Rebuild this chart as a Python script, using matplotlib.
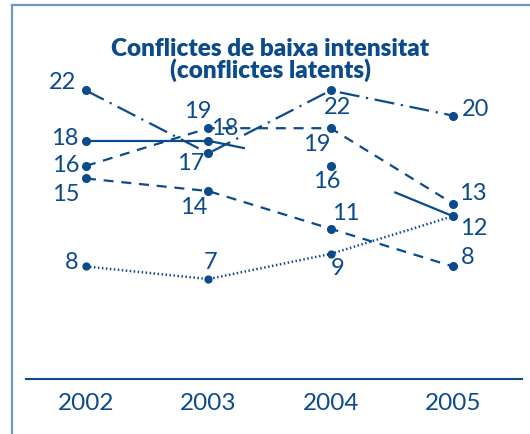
import matplotlib.pyplot as plt
from matplotlib.lines import Line2D

years = ['2002', '2003', '2004', '2005']
serie_a = [22, 17, 22, 20]   # traç-punt
serie_b = [18, 18, 16, 12]   # continu (amb talls)
serie_c = [16, 19, 19, 13]   # discontinu
serie_d = [15, 14, 11, 8]    # discontinu
serie_e = [8, 7, 9, 12]      # puntejat

blue = '#0b4a8b'
frame_blue = '#6d95c6'
plt.rcParams['font.family'] = ['Lato', 'DejaVu Sans']

fig = plt.figure(figsize=(5.30, 4.34), dpi=100)
W, H = 530, 434
ax = fig.add_axes([26 / W, (H - 379) / H, 496 / W, 374 / H])
ax.set_xlim(-0.49, 3.564)
ax.set_ylim(-0.95, 28.8)

x = list(range(len(years)))
lw = 1.6
ms = 5.5

ax.plot(x, serie_a, color=blue, lw=lw, dashes=(9, 3, 1, 3), marker='o', ms=ms)
ax.plot(x, serie_c, color=blue, lw=lw, dashes=(4.5, 3.5), marker='o', ms=ms)
ax.plot(x, serie_d, color=blue, lw=lw, dashes=(4.5, 3.5), marker='o', ms=ms)
ax.plot(x, serie_e, color=blue, lw=1.8, dashes=(0.6, 1.0), marker='o', ms=ms * 0.9)

# solid series: line is cut around 2004
ax.plot(x, serie_b, color=blue, lw=0, marker='o', ms=ms)
def part(i, t0, t1):
    xs = [x[i] + t * (x[i + 1] - x[i]) for t in (t0, t1)]
    ys = [serie_b[i] + t * (serie_b[i + 1] - serie_b[i]) for t in (t0, t1)]
    ax.plot(xs, ys, color=blue, lw=lw, solid_capstyle='butt')
part(0, 0, 1)
part(1, 0, 0.3)
part(2, 0.52, 1)

# label offsets in pixels (dx, dy)
offsets = {
    'a': [(-23, 8), (-18, -10), (7, -17), (23, 6)],
    'b': [(-21, 2), (16, 12), (-4, -16), (21, -12)],
    'c': [(-20, 0), (-11, 17), (-14, -16), (20, 10)],
    'd': [(-20, -16), (-15, -16), (15, 15), (15, 9)],
    'e': [(-14, 4), (2, 17), (7, -15), (21, -12)],
}
series = {'a': serie_a, 'b': serie_b, 'c': serie_c, 'd': serie_d, 'e': serie_e}
for key, vals in series.items():
    for i, v in enumerate(vals):
        if key == 'e' and i == 3:
            continue  # 12 shared with solid series
        dx, dy = offsets[key][i]
        ax.annotate(str(v), (x[i], v), xytext=(dx, dy), textcoords='offset pixels',
                    ha='center', va='center', fontsize=17, color=blue)

ax.set_xticks(x)
ax.set_xticklabels(years, fontsize=17.5, color=blue)
ax.tick_params(axis='x', length=0, pad=10)
ax.set_yticks([])
for s in ['top', 'right', 'left']:
    ax.spines[s].set_visible(False)
ax.spines['bottom'].set_color(blue)
ax.spines['bottom'].set_linewidth(1.5)
ax.patch.set_visible(False)

fig.text(270 / W, 1 - 60 / H, 'Conflictes de baixa intensitat\n(conflictes latents)',
         ha='center', va='center', fontsize=17.5, fontweight='heavy', color=blue,
         linespacing=0.92)

# frame: only left and top edges are visible
fig.add_artist(Line2D([12 / W, 12 / W], [0, 1 - 5 / H], transform=fig.transFigure,
                      color=frame_blue, lw=1.6))
fig.add_artist(Line2D([12 / W, 1], [1 - 5 / H, 1 - 5 / H], transform=fig.transFigure,
                      color=frame_blue, lw=1.6))

fig.savefig('out.png', dpi=100)
